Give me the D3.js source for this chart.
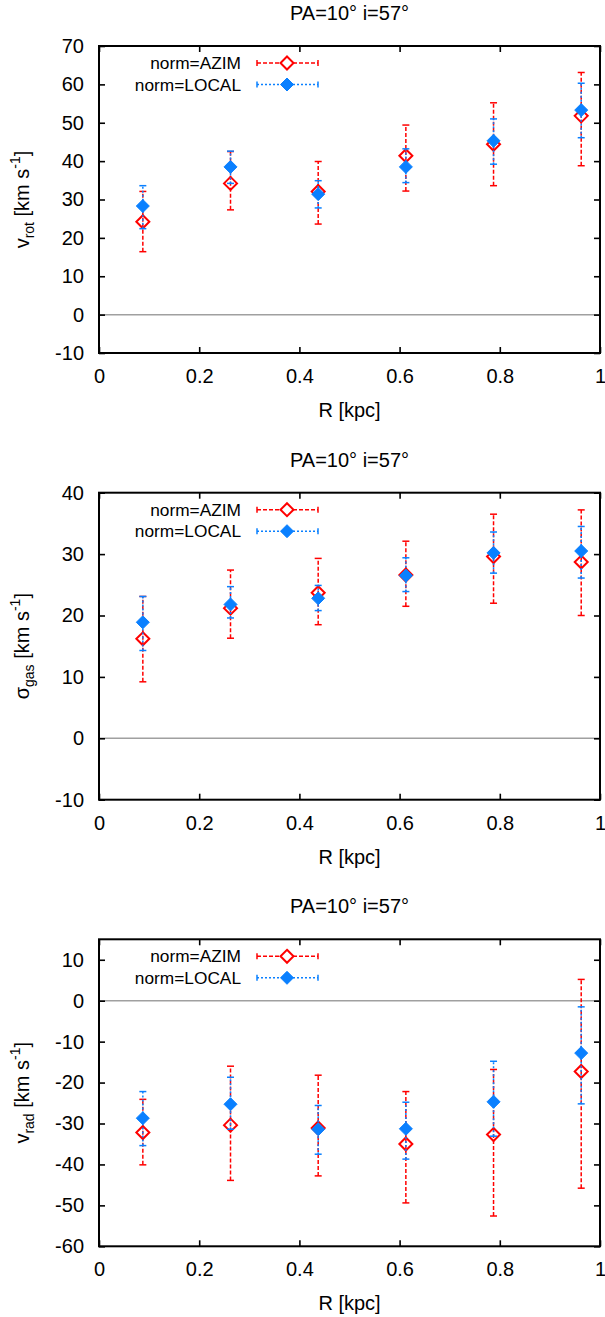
<!DOCTYPE html>
<html>
<head>
<meta charset="utf-8">
<script src="https://cdn.jsdelivr.net/npm/d3@7"></script>
<style>
  html, body { margin: 0; padding: 0; background: #fff; }
  svg { display: block; }
  text { font-family: "Liberation Sans", Arial, Helvetica, sans-serif; fill: #000; }
</style>
</head>
<body>
<div id="chart"></div>
<script>
// ---------- data ----------
const radius = [0.0875, 0.2625, 0.4375, 0.6125, 0.7875, 0.9625];
const xTicks = [0, 0.2, 0.4, 0.6, 0.8, 1];
const seriesNames = ["norm=AZIM", "norm=LOCAL"];
const titleText = "PA=10° i=57°";
const xLabel = "R [kpc]";

// panel 1 : v_rot
const vrotAzim    = [24.2, 34.2, 32.1, 41.4, 44.4, 51.8];
const vrotAzimLo  = [16.4, 27.3, 23.6, 32.2, 33.6, 38.8];
const vrotAzimHi  = [32.1, 42.5, 39.9, 49.4, 55.2, 63.1];
const vrotLocal   = [28.3, 38.5, 31.4, 38.5, 45.3, 53.3];
const vrotLocalLo = [22.4, 34.2, 27.8, 34.4, 39.2, 46.1];
const vrotLocalHi = [33.6, 42.6, 34.9, 43.2, 51.0, 60.3];
const vrotTicks   = [-10, 0, 10, 20, 30, 40, 50, 60, 70];

// panel 2 : sigma_gas
const sigAzim    = [16.2, 21.2, 23.7, 26.6, 29.6, 28.7];
const sigAzimLo  = [9.2, 16.3, 18.5, 21.5, 22.0, 20.0];
const sigAzimHi  = [23.1, 27.4, 29.3, 32.1, 36.5, 37.2];
const sigLocal   = [18.9, 21.8, 22.8, 26.5, 30.2, 30.5];
const sigLocalLo = [14.3, 19.6, 20.8, 23.9, 26.9, 26.1];
const sigLocalHi = [23.1, 24.7, 24.9, 29.4, 33.6, 34.5];
const sigTicks   = [-10, 0, 10, 20, 30, 40];

// panel 3 : v_rad
const vradAzim    = [-32.2, -30.4, -31.1, -35.0, -32.7, -17.3];
const vradAzimLo  = [-40.1, -43.9, -42.8, -49.4, -52.6, -45.8];
const vradAzimHi  = [-24.1, -16.0, -18.2, -22.2, -16.8, 5.2];
const vradLocal   = [-28.7, -25.3, -31.4, -31.3, -24.7, -12.8];
const vradLocalLo = [-35.4, -31.4, -37.5, -38.7, -33.1, -25.2];
const vradLocalHi = [-22.2, -18.7, -25.6, -24.8, -14.8, -1.5];
const vradTicks   = [-60, -50, -40, -30, -20, -10, 0, 10];

// ---------- layout ----------
const W = 605, H = 1317;
const left = 99, right = 600, plotH = 307;
const tops = [46, 492.7, 939.3];
const RED = "#ff0000", BLUE = "#0a80ff";

const panels = [
  { yDomain: [-10, 70], ticks: vrotTicks, sym: "v", sub: "rot",
    azim: [vrotAzim, vrotAzimLo, vrotAzimHi], local: [vrotLocal, vrotLocalLo, vrotLocalHi] },
  { yDomain: [-10, 40], ticks: sigTicks, sym: "σ", sub: "gas",
    azim: [sigAzim, sigAzimLo, sigAzimHi], local: [sigLocal, sigLocalLo, sigLocalHi] },
  { yDomain: [-60, 15], ticks: vradTicks, sym: "v", sub: "rad",
    azim: [vradAzim, vradAzimLo, vradAzimHi], local: [vradLocal, vradLocalLo, vradLocalHi] }
];

const svg = d3.select("#chart").append("svg").attr("width", W).attr("height", H);

const x = d3.scaleLinear().domain([0, 1]).range([left, right]);
const plainFmt = d => String(d);

function diamond(sel, cx, cy, r) {
  return sel.append("path")
    .attr("d", `M${cx},${cy - r}L${cx + r},${cy}L${cx},${cy + r}L${cx - r},${cy}Z`);
}

panels.forEach((p, i) => {
  const top = tops[i], bottom = top + plotH;
  const y = d3.scaleLinear().domain(p.yDomain).range([bottom, top]);
  const g = svg.append("g");

  // zero line
  g.append("line").attr("x1", left).attr("x2", right)
    .attr("y1", y(0)).attr("y2", y(0))
    .attr("stroke", "#a0a0a0").attr("stroke-width", 1.5);

  // axes (ticks inward)
  const fontSize = 20;
  const yAxisL = d3.axisLeft(y).tickValues(p.ticks).tickFormat(plainFmt)
    .tickSizeInner(-6).tickSizeOuter(0).tickPadding(15);
  const ga = g.append("g").attr("transform", `translate(${left},0)`).call(yAxisL);
  const yAxisR = d3.axisRight(y).tickValues(p.ticks).tickFormat("")
    .tickSizeInner(-6).tickSizeOuter(0);
  const gb = g.append("g").attr("transform", `translate(${right},0)`).call(yAxisR);
  const xAxisB = d3.axisBottom(x).tickValues(xTicks).tickFormat(plainFmt)
    .tickSizeInner(-6).tickSizeOuter(0).tickPadding(16);
  const gc = g.append("g").attr("transform", `translate(0,${bottom})`).call(xAxisB);
  const xAxisT = d3.axisTop(x).tickValues(xTicks).tickFormat("")
    .tickSizeInner(-6).tickSizeOuter(0);
  const gd = g.append("g").attr("transform", `translate(0,${top})`).call(xAxisT);
  [ga, gb, gc, gd].forEach(a => {
    a.select(".domain").remove();
    a.selectAll(".tick line").attr("stroke", "#000").attr("stroke-width", 1.6);
    a.selectAll("text").attr("font-size", fontSize)
      .attr("font-family", '"Liberation Sans", Arial, sans-serif').attr("fill", "#000");
  });

  // frame
  g.append("rect").attr("x", left).attr("y", top)
    .attr("width", right - left).attr("height", plotH)
    .attr("fill", "none").attr("stroke", "#000").attr("stroke-width", 2);

  // title
  g.append("text").attr("x", (left + right) / 2).attr("y", top - 26)
    .attr("text-anchor", "middle").attr("font-size", 20).text(titleText);

  // x label
  g.append("text").attr("x", (left + right) / 2).attr("y", bottom + 64)
    .attr("text-anchor", "middle").attr("font-size", 20).text(xLabel);

  // y label
  const yl = g.append("text")
    .attr("transform", `translate(29,${(top + bottom) / 2}) rotate(-90)`)
    .attr("text-anchor", "middle").attr("font-size", 20);
  yl.append("tspan").text(p.sym);
  yl.append("tspan").attr("dy", 5).attr("font-size", 14).text(p.sub);
  yl.append("tspan").attr("dy", -5).text(" [km s");
  yl.append("tspan").attr("dy", -9).attr("font-size", 14).text("-1");
  yl.append("tspan").attr("dy", 9).text("]");

  // series
  const series = [
    { vals: p.azim, color: RED, dash: "4,2", filled: false, r: 6.5 },
    { vals: p.local, color: BLUE, dash: "2,2", filled: true, r: 6.5 }
  ];
  const capW = 3.5;
  series.forEach(s => {
    const [v, lo, hi] = s.vals;
    const sg = g.append("g");
    radius.forEach((rx, k) => {
      const cx = x(rx);
      sg.append("line").attr("x1", cx).attr("x2", cx)
        .attr("y1", y(lo[k])).attr("y2", y(hi[k]))
        .attr("stroke", s.color).attr("stroke-width", 1.5).attr("stroke-dasharray", s.dash);
      [lo[k], hi[k]].forEach(e => {
        sg.append("line").attr("x1", cx - capW).attr("x2", cx + capW)
          .attr("y1", y(e)).attr("y2", y(e))
          .attr("stroke", s.color).attr("stroke-width", 1.5);
      });
    });
    radius.forEach((rx, k) => {
      const d = diamond(sg, x(rx), y(v[k]), s.r);
      if (s.filled) d.attr("fill", s.color).attr("stroke", s.color).attr("stroke-width", 1);
      else d.attr("fill", "none").attr("stroke", s.color).attr("stroke-width", 2);
    });
  });

  // legend
  const legX = 241, lx1 = 257, lx2 = 318, lmid = 287;
  series.forEach((s, k) => {
    const ly = top + 17 + k * 21.5;
    g.append("text").attr("x", legX).attr("y", ly).attr("dy", "0.35em")
      .attr("text-anchor", "end").attr("font-size", 17.3).text(seriesNames[k]);
    g.append("line").attr("x1", lx1).attr("x2", lx2).attr("y1", ly).attr("y2", ly)
      .attr("stroke", s.color).attr("stroke-width", 1.5).attr("stroke-dasharray", s.dash);
    [lx1, lx2].forEach(ex => {
      g.append("line").attr("x1", ex).attr("x2", ex).attr("y1", ly - 3).attr("y2", ly + 3)
        .attr("stroke", s.color).attr("stroke-width", 1.5);
    });
    const d = diamond(g, lmid, ly, s.r);
    if (s.filled) d.attr("fill", s.color).attr("stroke", s.color).attr("stroke-width", 1);
    else d.attr("fill", "#fff").attr("stroke", s.color).attr("stroke-width", 2);
  });
});
</script>
</body>
</html>
